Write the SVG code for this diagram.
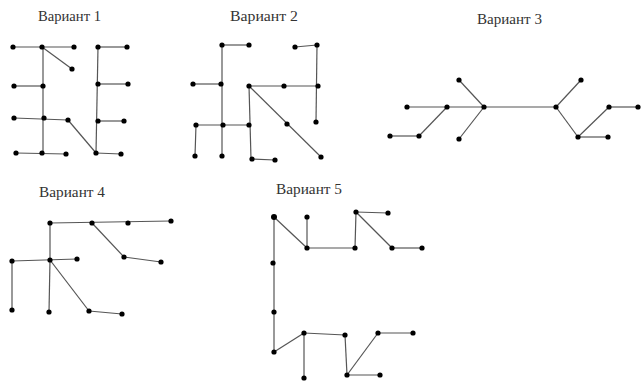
<svg xmlns="http://www.w3.org/2000/svg" width="644" height="388" viewBox="0 0 644 388">
<style>
.t{font-family:"Liberation Serif","Times New Roman",serif;font-size:14px;fill:#333}
.e line{stroke:#555;stroke-width:1.2}
.n circle{fill:#000}
</style>
<rect width="644" height="388" fill="#fff"/>
<g id="titles">
<text class="t" x="38" y="21" textLength="63" lengthAdjust="spacingAndGlyphs">Вариант 1</text>
<text class="t" x="230" y="21" textLength="68" lengthAdjust="spacingAndGlyphs">Вариант 2</text>
<text class="t" x="477" y="24" textLength="65" lengthAdjust="spacingAndGlyphs">Вариант 3</text>
<text class="t" x="39" y="197" textLength="66" lengthAdjust="spacingAndGlyphs">Вариант 4</text>
<text class="t" x="276" y="194" textLength="66" lengthAdjust="spacingAndGlyphs">Вариант 5</text>
</g>
<g id="connectors" class="e">
<!-- V1 -->
<line x1="13" y1="47" x2="74" y2="47"/>
<line x1="42" y1="47" x2="72" y2="69"/>
<line x1="43" y1="47" x2="43" y2="153"/>
<line x1="14" y1="86" x2="43" y2="86"/>
<line x1="14" y1="118" x2="68" y2="120"/>
<line x1="68" y1="120" x2="96" y2="153"/>
<line x1="16" y1="153" x2="66" y2="154"/>
<line x1="98" y1="47" x2="127" y2="47"/>
<line x1="98" y1="47" x2="96" y2="153"/>
<line x1="98" y1="84" x2="128" y2="84"/>
<line x1="98" y1="121" x2="124" y2="121"/>
<line x1="96" y1="153" x2="121" y2="154"/>
<!-- V2 -->
<line x1="222" y1="45" x2="249" y2="45"/>
<line x1="222" y1="45" x2="222" y2="156"/>
<line x1="193" y1="84" x2="221" y2="84"/>
<line x1="196" y1="125" x2="249" y2="125"/>
<line x1="196" y1="125" x2="195" y2="156"/>
<line x1="249" y1="86" x2="251" y2="159"/>
<line x1="251" y1="159" x2="275" y2="160"/>
<line x1="249" y1="86" x2="318" y2="86"/>
<line x1="249" y1="86" x2="321" y2="157"/>
<line x1="295" y1="47" x2="317" y2="45"/>
<line x1="317" y1="45" x2="316" y2="122"/>
<!-- V3 -->
<line x1="407" y1="107" x2="556" y2="107"/>
<line x1="459" y1="80" x2="484" y2="107"/>
<line x1="484" y1="107" x2="459" y2="139"/>
<line x1="447" y1="107" x2="419" y2="136"/>
<line x1="390" y1="136" x2="419" y2="136"/>
<line x1="556" y1="107" x2="581" y2="80"/>
<line x1="556" y1="107" x2="578" y2="137"/>
<line x1="578" y1="137" x2="609" y2="107"/>
<line x1="609" y1="107" x2="638" y2="107"/>
<line x1="578" y1="137" x2="608" y2="137"/>
<!-- V4 -->
<line x1="50" y1="223" x2="171" y2="221"/>
<line x1="50" y1="223" x2="50" y2="260"/>
<line x1="12" y1="261" x2="77" y2="259"/>
<line x1="12" y1="261" x2="12" y2="310"/>
<line x1="50" y1="260" x2="49" y2="312"/>
<line x1="50" y1="260" x2="89" y2="311"/>
<line x1="89" y1="311" x2="122" y2="314"/>
<line x1="92" y1="223" x2="124" y2="257"/>
<line x1="124" y1="257" x2="161" y2="262"/>
<!-- V5 -->
<line x1="274" y1="217" x2="274" y2="352"/>
<line x1="274" y1="217" x2="307" y2="248"/>
<line x1="307" y1="217" x2="307" y2="248"/>
<line x1="307" y1="248" x2="355" y2="248"/>
<line x1="355" y1="248" x2="356" y2="212"/>
<line x1="356" y1="212" x2="388" y2="213"/>
<line x1="356" y1="212" x2="392" y2="248"/>
<line x1="392" y1="248" x2="422" y2="248"/>
<line x1="274" y1="352" x2="304" y2="333"/>
<line x1="304" y1="333" x2="345" y2="335"/>
<line x1="304" y1="333" x2="304" y2="378"/>
<line x1="345" y1="335" x2="347" y2="375"/>
<line x1="347" y1="375" x2="378" y2="333"/>
<line x1="378" y1="333" x2="413" y2="333"/>
<line x1="347" y1="375" x2="380" y2="375"/>
</g>
<g id="variant1" class="n">
<circle cx="13" cy="47" r="2.6"/><circle cx="42" cy="47" r="2.6"/><circle cx="74" cy="47" r="2.6"/><circle cx="72" cy="69" r="2.6"/>
<circle cx="98" cy="47" r="2.6"/><circle cx="127" cy="47" r="2.6"/>
<circle cx="14" cy="86" r="2.6"/><circle cx="43" cy="86" r="2.6"/><circle cx="98" cy="84" r="2.6"/><circle cx="128" cy="84" r="2.6"/>
<circle cx="14" cy="118" r="2.6"/><circle cx="44" cy="118" r="2.6"/><circle cx="68" cy="120" r="2.6"/><circle cx="98" cy="121" r="2.6"/><circle cx="124" cy="121" r="2.6"/>
<circle cx="16" cy="153" r="2.6"/><circle cx="42" cy="153" r="2.6"/><circle cx="66" cy="154" r="2.6"/><circle cx="96" cy="153" r="2.6"/><circle cx="121" cy="154" r="2.6"/>
</g>
<g id="variant2" class="n">
<circle cx="222" cy="45" r="2.6"/><circle cx="249" cy="45" r="2.6"/><circle cx="295" cy="47" r="2.6"/><circle cx="317" cy="45" r="2.6"/>
<circle cx="193" cy="84" r="2.6"/><circle cx="221" cy="84" r="2.6"/><circle cx="249" cy="86" r="2.6"/><circle cx="284" cy="86" r="2.6"/><circle cx="318" cy="86" r="2.6"/>
<circle cx="196" cy="125" r="2.6"/><circle cx="223" cy="125" r="2.6"/><circle cx="249" cy="125" r="2.6"/><circle cx="287" cy="124" r="2.6"/><circle cx="316" cy="122" r="2.6"/>
<circle cx="195" cy="156" r="2.6"/><circle cx="222" cy="156" r="2.6"/><circle cx="252" cy="159" r="2.6"/><circle cx="275" cy="160" r="2.6"/><circle cx="321" cy="157" r="2.6"/>
</g>
<g id="variant3" class="n">
<circle cx="459" cy="80" r="2.6"/><circle cx="407" cy="107" r="2.6"/><circle cx="447" cy="107" r="2.6"/><circle cx="484" cy="107" r="2.6"/>
<circle cx="390" cy="136" r="2.6"/><circle cx="419" cy="136" r="2.6"/><circle cx="459" cy="139" r="2.6"/>
<circle cx="556" cy="107" r="2.6"/><circle cx="581" cy="80" r="2.6"/><circle cx="609" cy="107" r="2.6"/><circle cx="638" cy="107" r="2.6"/>
<circle cx="578" cy="137" r="2.6"/><circle cx="608" cy="137" r="2.6"/>
</g>
<g id="variant4" class="n">
<circle cx="50" cy="223" r="2.6"/><circle cx="92" cy="223" r="2.6"/><circle cx="128" cy="223" r="2.6"/><circle cx="171" cy="221" r="2.6"/>
<circle cx="12" cy="261" r="2.6"/><circle cx="50" cy="260" r="2.6"/><circle cx="77" cy="259" r="2.6"/><circle cx="124" cy="257" r="2.6"/><circle cx="161" cy="262" r="2.6"/>
<circle cx="12" cy="310" r="2.6"/><circle cx="49" cy="312" r="2.6"/><circle cx="89" cy="311" r="2.6"/><circle cx="122" cy="314" r="2.6"/>
</g>
<g id="variant5" class="n">
<circle cx="274" cy="217" r="3"/><circle cx="307" cy="217" r="2.6"/><circle cx="356" cy="212" r="2.6"/><circle cx="388" cy="213" r="2.6"/>
<circle cx="307" cy="248" r="2.6"/><circle cx="355" cy="248" r="2.6"/><circle cx="392" cy="248" r="2.6"/><circle cx="422" cy="248" r="2.6"/>
<circle cx="273" cy="263" r="2.6"/><circle cx="274" cy="312" r="2.6"/>
<circle cx="274" cy="352" r="2.6"/><circle cx="304" cy="333" r="2.6"/><circle cx="345" cy="335" r="2.6"/><circle cx="378" cy="333" r="2.6"/><circle cx="413" cy="333" r="2.6"/>
<circle cx="304" cy="378" r="2.6"/><circle cx="347" cy="375" r="2.6"/><circle cx="380" cy="375" r="2.6"/>
</g>
</svg>
